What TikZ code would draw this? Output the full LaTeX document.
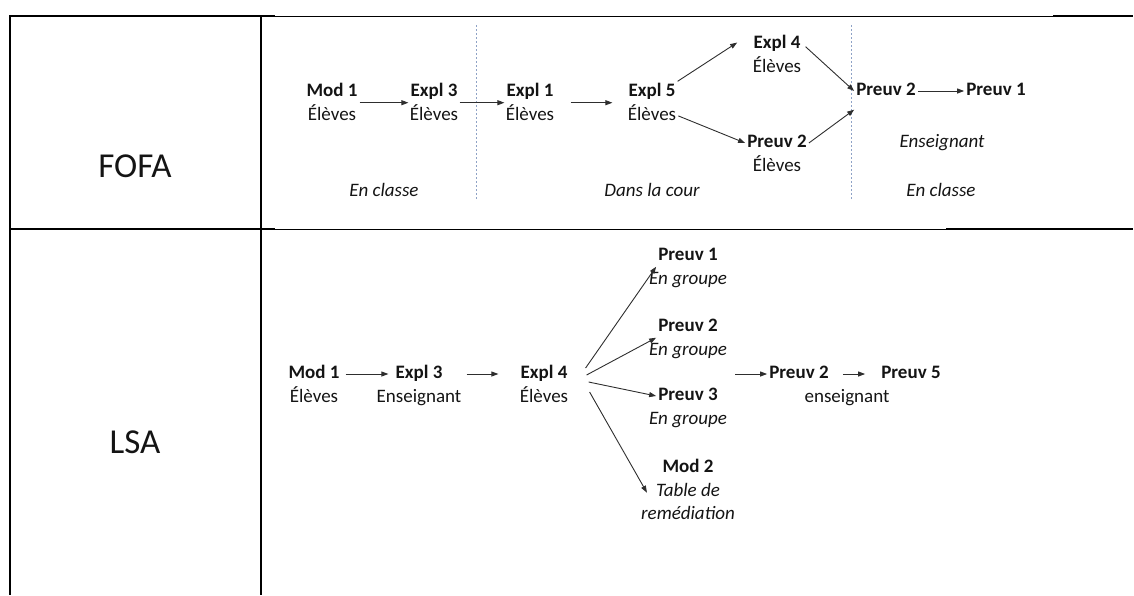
\documentclass[tikz,border=0pt]{standalone}
\usepackage{fontspec}
\setmainfont{Carlito}
\usetikzlibrary{arrows.meta,positioning}
\definecolor{inkgrey}{HTML}{141414}
\definecolor{arrowgrey}{HTML}{2E2E2E}
\definecolor{sepblue}{HTML}{8EA2C6}

\begin{document}
\begin{tikzpicture}[
  x=1pt, y=-1pt,
  font=\fontsize{19}{23}\selectfont,
  text=inkgrey,
  >={Triangle[length=7pt,width=5pt]},
  act/.style={inner sep=2pt, text height=13pt, text depth=4pt,
              font=\fontsize{19}{23}\selectfont\bfseries},
  who/.style={inner sep=2pt, text height=14pt, text depth=4pt},
  grp/.style={inner sep=2pt, text height=14pt, text depth=4pt,
              font=\fontsize{19}{23}\selectfont\itshape},
  place/.style={font=\fontsize{19}{23}\selectfont\itshape},
  rowlab/.style={font=\fontsize{35}{40}\selectfont},
  rule/.style={line width=2pt, black},
  thinrule/.style={line width=1pt, black},
  sep/.style={sepblue, line width=0.9pt, dash pattern=on 2pt off 2pt},
  flow/.style={->, arrowgrey, line width=0.9pt},
]
\useasboundingbox (0,0) rectangle (1134,595);

% --- Table frame ---
\draw[rule] (10,16) -- (275,16);
\draw[thinrule] (275,16) -- (1053,16);
\draw[rule] (1053,16) -- (1133,16);
\draw[rule] (10,229) -- (275,229);
\draw[thinrule] (275,229) -- (946,229);
\draw[rule] (946,229) -- (1133,229);
\draw[rule] (10,15) -- (10,595);
\draw[rule] (261,15) -- (261,595);

% --- Row labels ---
\node[rowlab] (fofa) at (135,166) {FOFA};
\node[rowlab] (lsa)  at (135,442) {LSA};

% --- FOFA: sequence ---
\node[act] (m1a)  at (332,92) {Mod 1};
\node[who, below=2pt of m1a] (m1a-s) {Élèves};
\node[act] (ex3a) at (434,92) {Expl 3};
\node[who, below=2pt of ex3a] (ex3a-s) {Élèves};
\node[act] (ex1a) at (530,92) {Expl 1};
\node[who, below=2pt of ex1a] (ex1a-s) {Élèves};
\node[act] (ex5a) at (652,92) {Expl 5};
\node[who, below=2pt of ex5a] (ex5a-s) {Élèves};
\node[act] (ex4a) at (777,44) {Expl 4};
\node[who, below=2pt of ex4a] (ex4a-s) {Élèves};
\node[act] (pl2a) at (777,143) {Preuv 2};
\node[who, below=2pt of pl2a] (pl2a-s) {Élèves};
\node[act] (pv2a) at (886,91) {Preuv 2};
\node[act] (pv1a) at (996,91) {Preuv 1};
\node[grp] (ensa) at (942,142) {Enseignant};

% --- FOFA: places ---
\draw[sep] (476,25) -- (476,200);
\draw[sep] (851,25) -- (851,200);
\node[place] (cl1) at (384,190) {En classe};
\node[place] (cour) at (652,190) {Dans la cour};
\node[place] (cl2) at (941,190) {En classe};

% --- FOFA: arrows ---
\draw[flow] (m1a.south east) -- (ex3a.south west);
\draw[flow] (ex3a.south east) -- (ex1a.south west);
\draw[flow, shorten <=15pt, shorten >=14pt] (ex1a.south east) -- (ex5a.south west);
\draw[flow, shorten >=17pt] (ex5a.north east) -- (ex4a.north west);
\draw[flow] (ex5a-s.east) -- (pl2a.west);
\draw[flow, shorten <=4pt] (ex4a.east) -- (pv2a.west);
\draw[flow] (pl2a.east) -- ([yshift=-8pt]pv2a.south west);
\draw[flow] (pv2a) -- (pv1a);

% --- LSA: sequence ---
\node[act] (m1b)  at (314,374) {Mod 1};
\node[who, below=2pt of m1b] (m1b-s) {Élèves};
\node[act] (ex3b) at (419,374) {Expl 3};
\node[who, below=2pt of ex3b] (ex3b-s) {Enseignant};
\node[act] (ex4b) at (544,374) {Expl 4};
\node[who, below=2pt of ex4b] (ex4b-s) {Élèves};
\node[act] (p1b)  at (688,256) {Preuv 1};
\node[grp, below=2pt of p1b] (p1b-s) {En groupe};
\node[act] (p2b)  at (688,327) {Preuv 2};
\node[grp, below=2pt of p2b] (p2b-s) {En groupe};
\node[act] (p3b)  at (688,396) {Preuv 3};
\node[grp, below=2pt of p3b] (p3b-s) {En groupe};
\node[act] (md2b) at (688,468) {Mod 2};
\node[grp, align=center, text height={}, text depth={}, below=2pt of md2b] (md2b-s) {Table de\\remédiation};
\coordinate (split) at (735,374);
\node[act] (pv2b) at (799,374) {Preuv 2};
\node[act] (pv5b) at (911,374) {Preuv 5};
\node[who] (ensb) at (847,397) {enseignant};

% --- LSA: arrows ---
\draw[flow, shorten <=4pt, shorten >=5pt] (m1b) -- (ex3b);
\draw[flow, shorten <=22pt, shorten >=20pt] (ex3b) -- (ex4b);
\draw[flow] ([shift={(16pt,6pt)}]ex4b.east) -- (p1b.south west);
\draw[flow] ([shift={(17pt,-1pt)}]ex4b.east) -- (p2b.south west);
\draw[flow] ([shift={(19pt,-8pt)}]ex4b.east) -- (p3b.west);
\draw[flow] ([shift={(20pt,-18pt)}]ex4b.east) -- ([shift={(8pt,-12pt)}]md2b-s.north west);
\draw[flow] (split) -- (pv2b);
\draw[flow, shorten <=12pt, shorten >=14pt] (pv2b) -- (pv5b);

\end{tikzpicture}
\end{document}
